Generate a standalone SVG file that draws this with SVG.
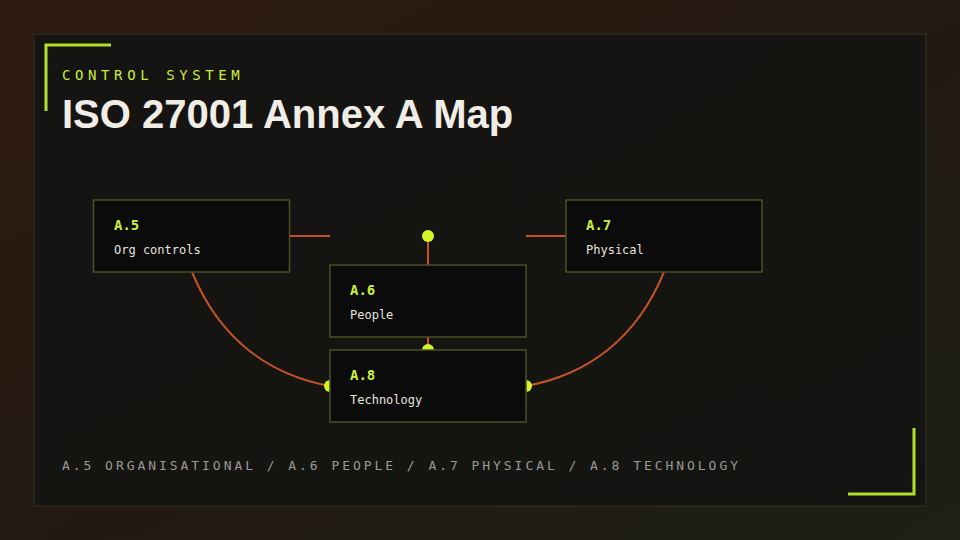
<svg xmlns="http://www.w3.org/2000/svg" width="960" height="540" viewBox="0 0 960 540">
  <defs>
    <linearGradient id="bg" x1="0" y1="0" x2="1" y2="1">
      <stop offset="0" stop-color="#2f1a10"/>
      <stop offset="0.5" stop-color="#231a12"/>
      <stop offset="1" stop-color="#1d2012"/>
    </linearGradient>
    <linearGradient id="panel" x1="0" y1="0" x2="1" y2="1">
      <stop offset="0" stop-color="#161412"/>
      <stop offset="1" stop-color="#141512"/>
    </linearGradient>
  </defs>
  <style>
    .mono { font-family: "DejaVu Sans Mono", "Liberation Mono", monospace; }
    .box { fill: #0b0b0b; stroke: #4f4f25; stroke-width: 1.5; }
    .code { font-family: "DejaVu Sans Mono", "Liberation Mono", monospace; font-weight: bold; font-size: 14px; fill: #c8f03a; }
    .lbl { font-family: "DejaVu Sans Mono", "Liberation Mono", monospace; font-size: 12px; fill: #e6e4de; }
    .wire { fill: none; stroke: #c4532a; stroke-width: 2; }
    .dot { fill: #d2f528; }
    .bracket { fill: none; stroke: #b2e02a; stroke-width: 3; }
  </style>
  <rect x="0" y="0" width="960" height="540" fill="url(#bg)"/>
  <rect x="34" y="34" width="892" height="472" fill="url(#panel)" stroke="#2b2a20" stroke-width="1.5"/>
  <polyline class="bracket" points="111,45 46,45 46,111"/>
  <polyline class="bracket" points="848,494 914,494 914,428"/>
  <text x="62" y="80" class="mono" font-size="14" letter-spacing="4.6" fill="#c8f03a">CONTROL SYSTEM</text>
  <text x="62" y="128" font-family="'Liberation Sans', Arial, sans-serif" font-weight="bold" font-size="40" fill="#f0ede6">ISO 27001 Annex A Map</text>

  <g id="connectors">
    <line class="wire" x1="290" y1="236" x2="330" y2="236"/>
    <line class="wire" x1="526" y1="236" x2="566" y2="236"/>
    <line class="wire" x1="428" y1="236" x2="428" y2="265"/>
    <circle class="dot" cx="428" cy="236" r="6"/>
    <line class="wire" x1="428" y1="337" x2="428" y2="350"/>
    <circle class="dot" cx="428" cy="350" r="6"/>
    <path class="wire" d="M192,272 C220,340 270,375 330,386"/>
    <circle class="dot" cx="330" cy="386" r="6"/>
    <path class="wire" d="M664,272 C636,340 586,375 526,386"/>
    <circle class="dot" cx="526" cy="386" r="6"/>
  </g>

  <g id="node-a5">
    <rect class="box" x="93.5" y="200" width="196" height="72"/>
    <text class="code" x="114" y="230">A.5</text>
    <text class="lbl" x="114" y="254">Org controls</text>
  </g>
  <g id="node-a7">
    <rect class="box" x="566" y="200" width="196" height="72"/>
    <text class="code" x="586" y="230">A.7</text>
    <text class="lbl" x="586" y="254">Physical</text>
  </g>
  <g id="node-a6">
    <rect class="box" x="330" y="265" width="196" height="72"/>
    <text class="code" x="350" y="295">A.6</text>
    <text class="lbl" x="350" y="319">People</text>
  </g>
  <g id="node-a8">
    <rect class="box" x="330" y="350" width="196" height="72"/>
    <text class="code" x="350" y="380">A.8</text>
    <text class="lbl" x="350" y="404">Technology</text>
  </g>

  <text x="62" y="470" class="mono" font-size="13" letter-spacing="2.95" fill="#9b9a96">A.5 ORGANISATIONAL / A.6 PEOPLE / A.7 PHYSICAL / A.8 TECHNOLOGY</text>
</svg>
